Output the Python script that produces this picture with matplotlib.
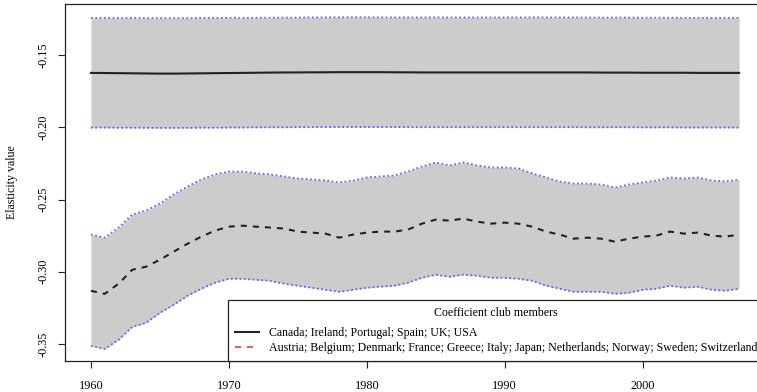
import numpy as np
import matplotlib
matplotlib.use('Agg')
import matplotlib.pyplot as plt
from matplotlib.lines import Line2D

plt.rcParams['font.family'] = ['Liberation Serif', 'DejaVu Serif']

years = np.arange(1960, 2008)

# Club 1: Canada; Ireland; Portugal; Spain; UK; USA
club1_mid = [-0.1623, -0.1624, -0.1625, -0.1626, -0.1627, -0.1628, -0.1628, -0.1627, -0.1626, -0.1625,
             -0.1624, -0.1623, -0.1622, -0.1621, -0.1620, -0.1620, -0.1619, -0.1619, -0.1618, -0.1618,
             -0.1618, -0.1618, -0.1619, -0.1619, -0.1620, -0.1620, -0.1620, -0.1620, -0.1620, -0.1620,
             -0.1620, -0.1620, -0.1620, -0.1620, -0.1620, -0.1620, -0.1620, -0.1621, -0.1621, -0.1621,
             -0.1622, -0.1622, -0.1622, -0.1622, -0.1623, -0.1623, -0.1623, -0.1623]
club1_hi = [-0.1243, -0.1243, -0.1243, -0.1243, -0.1244, -0.1244, -0.1244, -0.1244, -0.1243, -0.1243,
            -0.1242, -0.1242, -0.1241, -0.1241, -0.1240, -0.1240, -0.1239, -0.1239, -0.1238, -0.1238,
            -0.1238, -0.1238, -0.1239, -0.1239, -0.1239, -0.1239, -0.1239, -0.1239, -0.1239, -0.1239,
            -0.1239, -0.1239, -0.1239, -0.1239, -0.1239, -0.1239, -0.1239, -0.1240, -0.1240, -0.1240,
            -0.1241, -0.1241, -0.1241, -0.1242, -0.1242, -0.1242, -0.1243, -0.1243]
club1_lo = [-0.2002, -0.2002, -0.2003, -0.2003, -0.2004, -0.2004, -0.2004, -0.2004, -0.2003, -0.2003,
            -0.2002, -0.2002, -0.2001, -0.2000, -0.2000, -0.1999, -0.1999, -0.1998, -0.1998, -0.1998,
            -0.1998, -0.1998, -0.1998, -0.1999, -0.1999, -0.1999, -0.1999, -0.1999, -0.1999, -0.1999,
            -0.1999, -0.1999, -0.1999, -0.1999, -0.1999, -0.1999, -0.2000, -0.2000, -0.2000, -0.2000,
            -0.2001, -0.2001, -0.2001, -0.2002, -0.2002, -0.2002, -0.2002, -0.2002]

# Club 2: Austria; Belgium; Denmark; France; Greece; Italy; Japan; Netherlands; Norway; Sweden; Switzerland
club2_mid = [-0.3132, -0.3153, -0.3083, -0.2986, -0.2965, -0.2917, -0.2861, -0.2806, -0.2757, -0.2715,
             -0.2688, -0.2681, -0.2688, -0.2694, -0.2701, -0.2722, -0.2729, -0.2736, -0.2764, -0.2743,
             -0.2729, -0.2722, -0.2722, -0.2708, -0.2667, -0.2639, -0.2646, -0.2632, -0.2653, -0.2667,
             -0.2660, -0.2667, -0.2688, -0.2722, -0.2743, -0.2771, -0.2764, -0.2771, -0.2792, -0.2771,
             -0.2757, -0.2750, -0.2722, -0.2736, -0.2729, -0.2750, -0.2757, -0.2743]
club2_hi = [-0.2743, -0.2764, -0.2694, -0.2604, -0.2576, -0.2528, -0.2465, -0.2410, -0.2361, -0.2326,
            -0.2306, -0.2306, -0.2319, -0.2326, -0.2340, -0.2354, -0.2361, -0.2368, -0.2382, -0.2368,
            -0.2347, -0.2340, -0.2333, -0.2306, -0.2271, -0.2243, -0.2264, -0.2243, -0.2264, -0.2278,
            -0.2278, -0.2285, -0.2319, -0.2347, -0.2375, -0.2389, -0.2389, -0.2396, -0.2417, -0.2396,
            -0.2382, -0.2368, -0.2347, -0.2354, -0.2347, -0.2368, -0.2375, -0.2361]
club2_lo = [-0.3514, -0.3535, -0.3472, -0.3382, -0.3354, -0.3285, -0.3229, -0.3167, -0.3118, -0.3076,
            -0.3049, -0.3049, -0.3056, -0.3063, -0.3083, -0.3097, -0.3111, -0.3125, -0.3139, -0.3125,
            -0.3111, -0.3104, -0.3097, -0.3076, -0.3042, -0.3021, -0.3035, -0.3021, -0.3028, -0.3042,
            -0.3042, -0.3049, -0.3063, -0.3097, -0.3118, -0.3139, -0.3139, -0.3139, -0.3153, -0.3146,
            -0.3125, -0.3118, -0.3097, -0.3111, -0.3104, -0.3125, -0.3132, -0.3118]

legend_title = 'Coefficient club members'
club_labels = ['Canada; Ireland; Portugal; Spain; UK; USA',
               'Austria; Belgium; Denmark; France; Greece; Italy; Japan; Netherlands; Norway; Sweden; Switzerland']

fig = plt.figure(figsize=(7.57, 3.92), dpi=100)
ax = fig.add_axes([0.0859, 0.0791, 0.9247, 0.9107])

band_col = '#cccccc'
ci_col = '#4d4dff'
dot = (0, (1.0, 1.4))

for lo, hi in [(club1_lo, club1_hi), (club2_lo, club2_hi)]:
    ax.fill_between(years, lo, hi, color=band_col, lw=0)
    ax.plot(years, hi, color=ci_col, lw=1.3, linestyle=dot, alpha=0.85)
    ax.plot(years, lo, color=ci_col, lw=1.3, linestyle=dot, alpha=0.85)

ax.plot(years, club1_mid, color='#222222', lw=1.5)
ax.plot(years, club2_mid, color='#222222', lw=1.5, linestyle=(0, (2.9, 2.9)))

ax.set_xlim(1958.12, 2008.88)
ax.set_ylim(-0.3618, -0.1146)
ax.set_xticks([1960, 1970, 1980, 1990, 2000])
ax.set_yticks([-0.35, -0.30, -0.25, -0.20, -0.15])
ax.set_yticklabels(['-0.35', '-0.30', '-0.25', '-0.20', '-0.15'], rotation=90, va='center')
ax.tick_params(axis='both', direction='out', length=5, width=0.8, labelsize=8.8, color='#222222')
ax.tick_params(axis='x', pad=9)
ax.tick_params(axis='y', pad=6)
for s in ax.spines.values():
    s.set_linewidth(0.9)
    s.set_color('#222222')

ax.set_ylabel('Elasticity value', fontsize=8.6, labelpad=14)

handles = [Line2D([], [], color='#222222', lw=1.5),
           Line2D([], [], color='#ff3030', lw=1.2, linestyle=(0, (3.6, 3.6)))]
leg = ax.legend(handles, club_labels, title=legend_title, loc='lower right',
                fontsize=8.6, title_fontsize=8.6, frameon=True, fancybox=False,
                borderaxespad=0, borderpad=0.6, labelspacing=0.2,
                handlelength=2.0, handletextpad=0.9)
leg.get_frame().set_edgecolor('#222222')
leg.get_frame().set_linewidth(0.9)
leg.get_frame().set_alpha(1)
# extra room between the legend title and its entries
leg._legend_box.sep = 6

fig.savefig('out.png', dpi=100)
